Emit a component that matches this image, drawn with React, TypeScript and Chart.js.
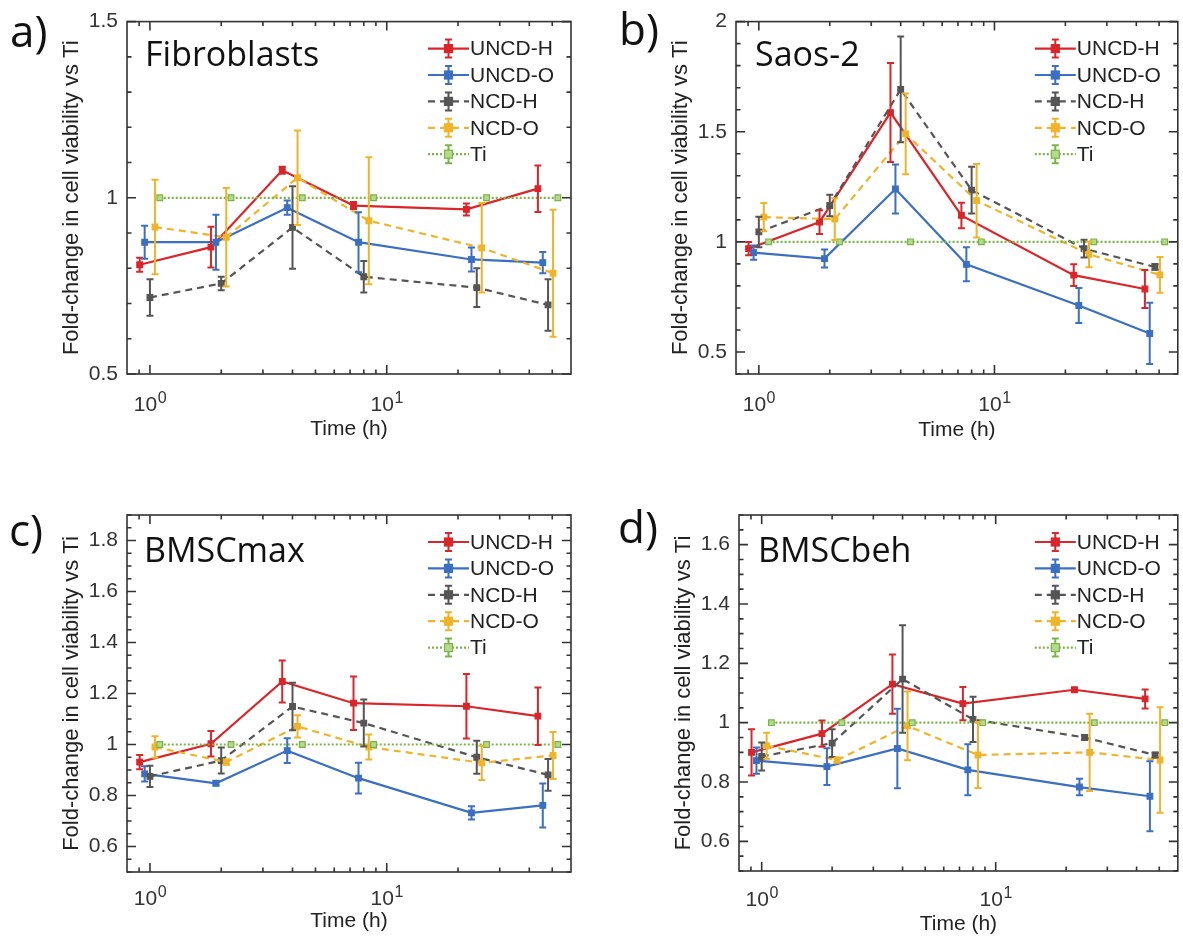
import React, { useEffect, useRef } from 'react';
import { Chart, registerables } from 'chart.js';

Chart.register(...registerables);

// ---------------- data ----------------
const seriesNames = ['UNCD-H', 'UNCD-O', 'NCD-H', 'NCD-O', 'Ti'];
const seriesColors = ['#d9262b', '#3b6fc1', '#555555', '#efb42a', '#78b544'];
const seriesDashes: number[][] = [[], [], [7, 5], [7, 5], [2, 2]];

// plotted time positions (h); series are slightly offset from each other
const timeUNCDH = [0.905, 1.81, 3.62, 7.24, 21.7, 43.5];
const timeUNCDO = [0.95, 1.9, 3.8, 7.6, 22.8, 45.6];
const timeNCDH = [1, 2, 4, 8, 24, 48];
const timeNCDO = [1.05, 2.1, 4.2, 8.4, 25.2, 50.4];
const timeTi = [1.1, 2.2, 4.4, 8.8, 26.4, 52.8];

const xTickValues = [0.9, 1, 2, 3, 4, 5, 6, 7, 8, 9, 10, 20, 30, 40, 50];
const xMajorTicks = [1, 10];
const xTickLabels = ['10', '10'];
const xTickExponents = ['0', '1'];

// a) Fibroblasts
const fibUNCDH = [0.81, 0.86, 1.078, 0.978, 0.967, 1.026];
const fibUNCDHErr = [0.02, 0.058, 0.01, 0.01, 0.017, 0.066];
const fibUNCDO = [0.874, 0.874, 0.972, 0.874, 0.825, 0.816];
const fibUNCDOErr = [0.047, 0.078, 0.02, 0.085, 0.034, 0.03];
const fibNCDH = [0.717, 0.757, 0.916, 0.776, 0.745, 0.696];
const fibNCDHErr = [0.052, 0.019, 0.117, 0.045, 0.055, 0.073];
const fibNCDO = [0.917, 0.888, 1.057, 0.935, 0.858, 0.786];
const fibNCDOErr = [0.134, 0.14, 0.134, 0.18, 0.127, 0.18];
const fibTi = [1, 1, 1, 1, 1, 1];
const fibTiErr = [0, 0, 0, 0, 0, 0];
const fibYTickLabels = ['0.5', '1', '1.5'];

// b) Saos-2
const saoUNCDH = [0.969, 1.09, 1.587, 1.12, 0.849, 0.786];
const saoUNCDHErr = [0.03, 0.054, 0.225, 0.058, 0.049, 0.086];
const saoUNCDO = [0.951, 0.924, 1.24, 0.898, 0.711, 0.584];
const saoUNCDOErr = [0.032, 0.041, 0.111, 0.077, 0.08, 0.139];
const saoNCDH = [1.045, 1.165, 1.692, 1.235, 0.969, 0.886];
const saoNCDHErr = [0.069, 0.049, 0.24, 0.106, 0.04, 0.013];
const saoNCDO = [1.112, 1.103, 1.49, 1.187, 0.943, 0.85];
const saoNCDOErr = [0.064, 0.095, 0.183, 0.167, 0.058, 0.081];
const saoTi = [1, 1, 1, 1, 1, 1];
const saoTiErr = [0, 0, 0, 0, 0, 0];
const saoYTickLabels = ['0.5', '1', '1.5', '2'];

// c) BMSCmax
const maxUNCDH = [0.931, 1.003, 1.247, 1.162, 1.15, 1.111];
const maxUNCDHErr = [0.028, 0.05, 0.082, 0.105, 0.126, 0.113];
const maxUNCDO = [0.885, 0.848, 0.976, 0.868, 0.732, 0.761];
const maxUNCDOErr = [0.03, 0.008, 0.049, 0.06, 0.026, 0.086];
const maxNCDH = [0.875, 0.937, 1.149, 1.084, 0.95, 0.881];
const maxNCDHErr = [0.042, 0.051, 0.093, 0.092, 0.065, 0.062];
const maxNCDO = [0.99, 0.931, 1.071, 0.99, 0.928, 0.957];
const maxNCDOErr = [0.042, 0.01, 0.044, 0.049, 0.067, 0.092];
const maxTi = [1, 1, 1, 1, 1, 1];
const maxTiErr = [0, 0, 0, 0, 0, 0];
const maxYTickLabels = ['0.6', '0.8', '1', '1.2', '1.4', '1.6', '1.8'];

// d) BMSCbeh
const behUNCDH = [0.9, 0.963, 1.13, 1.064, 1.111, 1.08];
const behUNCDHErr = [0.078, 0.044, 0.1, 0.056, 0.005, 0.032];
const behUNCDO = [0.872, 0.852, 0.913, 0.841, 0.783, 0.752];
const behUNCDOErr = [0.044, 0.062, 0.134, 0.086, 0.028, 0.118];
const behNCDH = [0.886, 0.931, 1.147, 1.011, 0.95, 0.891];
const behNCDHErr = [0.047, 0.047, 0.181, 0.076, 0.008, 0.008];
const behNCDO = [0.922, 0.874, 0.989, 0.891, 0.9, 0.874];
const behNCDOErr = [0.044, 0.008, 0.116, 0.111, 0.13, 0.178];
const behTi = [1, 1, 1, 1, 1, 1];
const behTiErr = [0, 0, 0, 0, 0, 0];
const behYTickLabels = ['0.6', '0.8', '1', '1.2', '1.4', '1.6'];

const seriesTimes = [timeUNCDH, timeUNCDO, timeNCDH, timeNCDO, timeTi];

// ---------------- layout ----------------
type Panel = {
  letter: string;
  title: string;
  canvas: number[]; // x, y, w, h (page)
  box: number[]; // l, t, r, b (page)
  yMin: number;
  yMax: number;
  yStep: number;
  yLabels: string[];
  xTitleH: number;
  xLabelBase: number;
  letterPos: number[];
  titlePos: number[];
  values: number[][];
  errors: number[][];
};

const panels: Panel[] = [
  {
    letter: 'a)', title: 'Fibroblasts',
    canvas: [0, 0, 591, 470], box: [127, 18, 571, 374],
    yMin: 0.5, yMax: 1.5, yStep: 0.1, yLabels: fibYTickLabels,
    xTitleH: 68, xLabelBase: 37,
    letterPos: [10, 47], titlePos: [145, 66],
    values: [fibUNCDH, fibUNCDO, fibNCDH, fibNCDO, fibTi],
    errors: [fibUNCDHErr, fibUNCDOErr, fibNCDHErr, fibNCDOErr, fibTiErr],
  },
  {
    letter: 'b)', title: 'Saos-2',
    canvas: [591, 0, 592, 470], box: [736, 20, 1180, 374],
    yMin: 0.4, yMax: 2.0, yStep: 0.1, yLabels: saoYTickLabels,
    xTitleH: 69, xLabelBase: 37,
    letterPos: [619, 45], titlePos: [755, 66],
    values: [saoUNCDH, saoUNCDO, saoNCDH, saoNCDO, saoTi],
    errors: [saoUNCDHErr, saoUNCDOErr, saoNCDHErr, saoNCDOErr, saoTiErr],
  },
  {
    letter: 'c)', title: 'BMSCmax',
    canvas: [0, 470, 591, 473], box: [127, 515, 571, 872],
    yMin: 0.5, yMax: 1.9, yStep: 0.05, yLabels: maxYTickLabels,
    xTitleH: 62, xLabelBase: 33,
    letterPos: [9, 546], titlePos: [144, 562],
    values: [maxUNCDH, maxUNCDO, maxNCDH, maxNCDO, maxTi],
    errors: [maxUNCDHErr, maxUNCDOErr, maxNCDHErr, maxNCDOErr, maxTiErr],
  },
  {
    letter: 'd)', title: 'BMSCbeh',
    canvas: [591, 470, 592, 473], box: [739, 515, 1182, 871],
    yMin: 0.5, yMax: 1.7, yStep: 0.05, yLabels: behYTickLabels,
    xTitleH: 66, xLabelBase: 35,
    letterPos: [618, 543], titlePos: [758, 562],
    values: [behUNCDH, behUNCDO, behNCDH, behNCDO, behTi],
    errors: [behUNCDHErr, behUNCDOErr, behNCDHErr, behNCDOErr, behTiErr],
  },
];

const AXIS_FONT = '"Liberation Sans", Arial, Helvetica, sans-serif';
const LABEL_FONT = '"Open Sans", "Noto Sans", sans-serif';
const FRAME = '#333333';
const Y_W = 68;

function buildYTicks(p: Panel): number[] {
  const out: number[] = [];
  const k0 = Math.round(p.yMin / p.yStep);
  const k1 = Math.round(p.yMax / p.yStep);
  for (let k = k0; k <= k1; k++) out.push(+(k * p.yStep).toFixed(4));
  return out;
}

function makeDecor(p: Panel, yTicks: number[], yMajor: number[]) {
  const [cx, cy] = p.canvas;
  return {
    id: 'decor' + p.letter,
    afterDatasetsDraw(chart: any) {
      const ctx = chart.ctx;
      const xs = chart.scales.x;
      const ys = chart.scales.y;
      chart.data.datasets.forEach((ds: any) => {
        ctx.save();
        ctx.strokeStyle = ds.borderColor;
        ctx.lineWidth = 2;
        ctx.setLineDash([]);
        ds.data.forEach((pt: any, j: number) => {
          const e = ds.errors[j];
          if (!e) return;
          const x = xs.getPixelForValue(pt.x);
          const y1 = ys.getPixelForValue(pt.y + e);
          const y2 = ys.getPixelForValue(pt.y - e);
          ctx.beginPath();
          ctx.moveTo(x, y1);
          ctx.lineTo(x, y2);
          ctx.moveTo(x - 3.5, y1);
          ctx.lineTo(x + 3.5, y1);
          ctx.moveTo(x - 3.5, y2);
          ctx.lineTo(x + 3.5, y2);
          ctx.stroke();
        });
        ctx.restore();
      });
    },
    afterDraw(chart: any) {
      const ctx = chart.ctx;
      const a = chart.chartArea;
      const xs = chart.scales.x;
      const ys = chart.scales.y;
      ctx.save();
      // frame
      ctx.strokeStyle = FRAME;
      ctx.lineWidth = 1.6;
      ctx.setLineDash([]);
      ctx.strokeRect(a.left, a.top, a.right - a.left, a.bottom - a.top);
      // ticks (inward, mirrored)
      ctx.beginPath();
      xTickValues.forEach((v) => {
        const px = xs.getPixelForValue(v);
        const len = xMajorTicks.includes(v) ? 9 : 4.5;
        ctx.moveTo(px, a.bottom);
        ctx.lineTo(px, a.bottom - len);
        ctx.moveTo(px, a.top);
        ctx.lineTo(px, a.top + len);
      });
      yTicks.forEach((v) => {
        const py = ys.getPixelForValue(v);
        const major = yMajor.some((m) => Math.abs(m - v) < 1e-6);
        const len = major ? 9 : 4.5;
        ctx.moveTo(a.left, py);
        ctx.lineTo(a.left + len, py);
        ctx.moveTo(a.right, py);
        ctx.lineTo(a.right - len, py);
      });
      ctx.stroke();
      // x tick labels 10^0, 10^1
      ctx.fillStyle = '#333';
      ctx.textBaseline = 'alphabetic';
      ctx.textAlign = 'left';
      xMajorTicks.forEach((v, i) => {
        const px = xs.getPixelForValue(v);
        ctx.font = `21px ${AXIS_FONT}`;
        const w1 = ctx.measureText(xTickLabels[i]).width;
        ctx.font = `16px ${AXIS_FONT}`;
        const w2 = ctx.measureText(xTickExponents[i]).width;
        const start = px - (w1 + w2) / 2;
        const base = a.bottom + p.xLabelBase;
        ctx.font = `21px ${AXIS_FONT}`;
        ctx.fillText(xTickLabels[i], start, base);
        ctx.font = `16px ${AXIS_FONT}`;
        ctx.fillText(xTickExponents[i], start + w1 + 0.5, base - 8);
      });
      // legend
      const x0 = a.right - 143;
      seriesNames.forEach((name, i) => {
        const y = a.top + 27 + i * 26.4;
        const col = seriesColors[i];
        ctx.strokeStyle = col;
        ctx.lineWidth = 2.2;
        ctx.setLineDash(seriesDashes[i]);
        ctx.beginPath();
        ctx.moveTo(x0, y);
        ctx.lineTo(x0 + 41, y);
        ctx.stroke();
        ctx.setLineDash([]);
        const xm = x0 + 20.5;
        ctx.lineWidth = 2;
        ctx.beginPath();
        ctx.moveTo(xm, y - 9);
        ctx.lineTo(xm, y + 9);
        ctx.moveTo(xm - 3.5, y - 9);
        ctx.lineTo(xm + 3.5, y - 9);
        ctx.moveTo(xm - 3.5, y + 9);
        ctx.lineTo(xm + 3.5, y + 9);
        ctx.stroke();
        ctx.fillStyle = i === 4 ? '#b5d98f' : col;
        ctx.fillRect(xm - 4, y - 4, 8, 8);
        ctx.lineWidth = 1.2;
        ctx.strokeRect(xm - 4, y - 4, 8, 8);
        ctx.fillStyle = '#222';
        ctx.font = `21px ${AXIS_FONT}`;
        ctx.textBaseline = 'middle';
        ctx.fillText(name, x0 + 42, y + 1);
      });
      // panel title and letter
      ctx.textBaseline = 'alphabetic';
      ctx.fillStyle = '#111';
      ctx.font = `34px ${LABEL_FONT}`;
      ctx.fillText(p.title, p.titlePos[0] - cx, p.titlePos[1] - cy);
      ctx.font = `44px ${LABEL_FONT}`;
      ctx.fillText(p.letter, p.letterPos[0] - cx, p.letterPos[1] - cy);
      ctx.restore();
    },
  };
}

function PanelChart({ p }: { p: Panel }) {
  const ref = useRef<HTMLCanvasElement>(null);
  useEffect(() => {
    const canvas = ref.current;
    if (!canvas) return;
    const [cx, cy, cw, ch] = p.canvas;
    const [bl, bt, br, bb] = p.box;
    const yTicks = buildYTicks(p);
    const yMajor = p.yLabels.map((s) => parseFloat(s));
    const datasets = seriesNames.map((name, i) => ({
      label: name,
      data: seriesTimes[i].map((t, j) => ({ x: t, y: p.values[i][j] })),
      errors: p.errors[i],
      showLine: true,
      borderColor: seriesColors[i],
      backgroundColor: seriesColors[i],
      borderWidth: 2.2,
      borderDash: seriesDashes[i],
      tension: 0,
      pointStyle: 'rect',
      pointRadius: 4,
      pointHoverRadius: 4,
      pointBackgroundColor: i === 4 ? '#b5d98f' : seriesColors[i],
      pointBorderColor: seriesColors[i],
      pointBorderWidth: 1.2,
      order: 4 - i,
    }));
    const chart = new Chart(canvas, {
      type: 'scatter',
      data: { datasets } as any,
      options: {
        animation: false,
        responsive: false,
        devicePixelRatio: 1,
        layout: {
          padding: {
            left: bl - cx - Y_W,
            top: bt - cy,
            right: cx + cw - br,
            bottom: cy + ch - bb - p.xTitleH,
          },
        },
        plugins: { legend: { display: false }, tooltip: { enabled: false } },
        scales: {
          x: {
            type: 'logarithmic',
            min: 0.8,
            max: 60,
            afterBuildTicks: (s: any) => {
              s.ticks = xTickValues.map((v) => ({ value: v }));
            },
            afterFit: (s: any) => {
              s.height = p.xTitleH;
            },
            grid: { display: false, drawTicks: false },
            border: { display: false },
            ticks: { callback: () => '', autoSkip: false, maxRotation: 0 },
            title: {
              display: true,
              text: 'Time (h)',
              color: '#222',
              padding: 0,
              font: { family: AXIS_FONT, size: 21 },
            },
          },
          y: {
            type: 'linear',
            min: p.yMin,
            max: p.yMax,
            afterBuildTicks: (s: any) => {
              s.ticks = yTicks.map((v) => ({ value: v }));
            },
            afterFit: (s: any) => {
              s.width = Y_W;
            },
            grid: { display: false, drawTicks: false },
            border: { display: false },
            ticks: {
              autoSkip: false,
              padding: 9,
              color: '#333',
              font: { family: AXIS_FONT, size: 21 },
              callback: (v: any) => {
                const idx = yMajor.findIndex((m) => Math.abs(m - Number(v)) < 1e-6);
                return idx >= 0 ? p.yLabels[idx] : '';
              },
            },
            title: {
              display: true,
              text: 'Fold-change in cell viability vs Ti',
              color: '#222',
              padding: 0,
              font: { family: AXIS_FONT, size: 22 },
            },
          },
        },
      } as any,
      plugins: [makeDecor(p, yTicks, yMajor) as any],
    });
    return () => chart.destroy();
  }, [p]);
  const [cx, cy, cw, ch] = p.canvas;
  return (
    <canvas
      ref={ref}
      width={cw}
      height={ch}
      style={{ position: 'absolute', left: cx, top: cy, width: cw, height: ch }}
    />
  );
}

export default function App() {
  return (
    <div
      style={{
        position: 'absolute',
        left: 0,
        top: 0,
        width: 1183,
        height: 943,
        background: '#ffffff',
        overflow: 'hidden',
      }}
    >
      {panels.map((p) => (
        <PanelChart key={p.letter} p={p} />
      ))}
    </div>
  );
}
